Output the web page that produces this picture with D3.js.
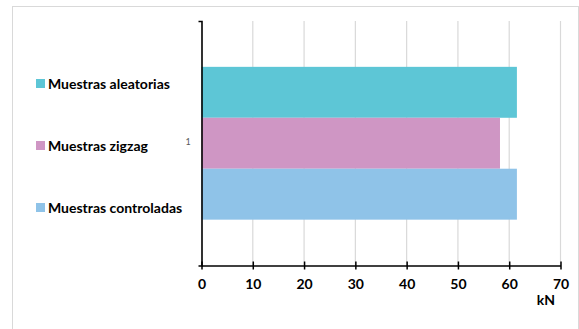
<!DOCTYPE html>
<html>
<head>
<meta charset="utf-8">
<script src="https://cdn.jsdelivr.net/npm/d3@7"></script>
<style>
  html, body { margin: 0; padding: 0; background: #fff; }
  svg { display: block; }
  text { font-family: Lato, "Open Sans", sans-serif; }
</style>
</head>
<body>
<svg id="chart" width="579" height="329"></svg>
<script>
// Chart data
const categories = ["1"];
const seriesNames = ["Muestras aleatorias", "Muestras zigzag", "Muestras controladas"];
const seriesValues = [61.5, 58.2, 61.5];
const seriesColors = ["#5dc6d6", "#cf96c4", "#8fc3e8"];
const xTicks = [0, 10, 20, 30, 40, 50, 60, 70];
const xUnit = "kN";

const svg = d3.select("#chart");

// Outer frame
svg.append("rect")
  .attr("x", 12.5).attr("y", 6.5)
  .attr("width", 566).attr("height", 340)
  .attr("fill", "#fff").attr("stroke", "#d9d9d9").attr("stroke-width", 1);

const plot = { left: 201.5, right: 560.5, top: 21, bottom: 265.5 };

const x = d3.scaleLinear().domain([0, 70]).range([plot.left, plot.right]);
const yCat = d3.scaleBand().domain(categories).range([plot.top, plot.bottom]);
// bars inside the single category: gap of ~180% of bar width shared top/bottom
const barH = yCat.bandwidth() / (seriesNames.length + 1.8);
const ySeries = d3.scaleBand().domain(seriesNames)
  .range([yCat(categories[0]) + 0.9 * barH, yCat(categories[0]) + 0.9 * barH + barH * seriesNames.length]);

// Vertical gridlines
svg.append("g").selectAll("line")
  .data(xTicks.filter(d => d > 0))
  .join("line")
  .attr("x1", d => x(d)).attr("x2", d => x(d))
  .attr("y1", plot.top).attr("y2", plot.bottom)
  .attr("stroke", "#d9d9d9").attr("stroke-width", 1.2);

// Bars
const rows = seriesNames.map((name, i) => ({ name, value: seriesValues[i], color: seriesColors[i] }));
svg.append("g").selectAll("rect")
  .data(rows)
  .join("rect")
  .attr("x", x(0))
  .attr("y", d => ySeries(d.name))
  .attr("width", d => x(d.value) - x(0))
  .attr("height", ySeries.bandwidth())
  .attr("fill", d => d.color);

// X axis
const xAxis = svg.append("g")
  .attr("transform", `translate(0,${plot.bottom})`)
  .call(d3.axisBottom(x).tickValues(xTicks).tickSize(4).tickPadding(10).tickSizeOuter(0));
xAxis.select(".domain").attr("stroke", "#000").attr("stroke-width", 1.6);
xAxis.selectAll(".tick line").attr("stroke", "#000").attr("stroke-width", 1.5).attr("y1", -4);
xAxis.selectAll(".tick text")
  .attr("fill", "#000").attr("font-size", "14px").attr("font-weight", "bold");

// Y axis
const yAxis = svg.append("g")
  .attr("transform", `translate(${plot.left},0)`)
  .call(d3.axisLeft(yCat).tickValues([]).tickSizeOuter(3));
yAxis.select(".domain").attr("stroke", "#000").attr("stroke-width", 1.6).attr("fill", "none");

// Category label
svg.append("text")
  .attr("x", 188).attr("y", yCat(categories[0]) + yCat.bandwidth() / 2 - 0.5)
  .attr("text-anchor", "middle").attr("dominant-baseline", "middle")
  .attr("font-size", "9px").attr("fill", "#595959")
  .text(categories[0]);

// Unit label
svg.append("text")
  .attr("x", 546).attr("y", 305)
  .attr("text-anchor", "middle")
  .attr("font-size", "14px").attr("font-weight", "bold").attr("fill", "#000")
  .text(xUnit);

// Legend entries, one per series, stacked down the left side
const legendY = d3.scalePoint().domain(seriesNames).range([79, 203]);
const legend = svg.append("g").selectAll("g")
  .data(rows)
  .join("g")
  .attr("transform", d => `translate(36,${legendY(d.name)})`);
legend.append("rect")
  .attr("x", 0).attr("y", 0).attr("width", 9).attr("height", 9)
  .attr("fill", d => d.color);
legend.append("text")
  .attr("x", 12).attr("y", 9.5)
  .attr("font-size", "14px").attr("font-weight", "bold").attr("fill", "#000")
  .text(d => d.name);
</script>
</body>
</html>
